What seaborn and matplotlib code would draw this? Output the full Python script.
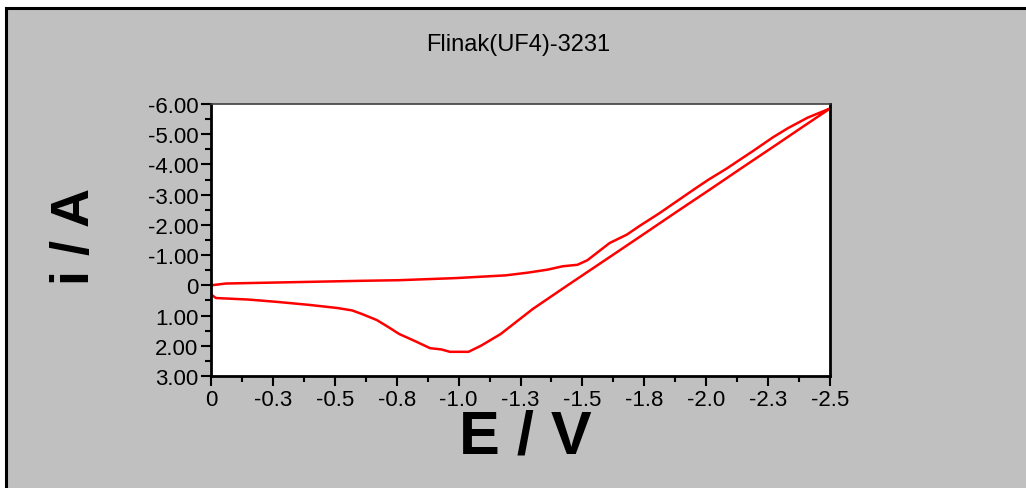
import matplotlib
matplotlib.use("Agg")
import matplotlib.pyplot as plt
from matplotlib import font_manager
from matplotlib.patches import Rectangle
from matplotlib.ticker import FixedLocator, MultipleLocator
import seaborn as sns
import pandas as pd

# forward scan (0 -> -2.5 V)
fwd_e = [0.0, -0.02, -0.15, -0.27, -0.40, -0.51, -0.57, -0.61, -0.67, -0.72,
         -0.76, -0.82, -0.885, -0.93, -0.965, -1.04, -1.09, -1.17, -1.30,
         -1.44, -1.52, -1.62, -1.745, -1.88, -2.015, -2.15, -2.29, -2.38,
         -2.46, -2.50]
fwd_i = [0.30, 0.42, 0.47, 0.55, 0.65, 0.75, 0.83, 0.95, 1.15, 1.40,
         1.61, 1.83, 2.08, 2.12, 2.20, 2.20, 2.00, 1.61, 0.78,
         0.0, -0.44, -0.99, -1.68, -2.43, -3.17, -3.92, -4.69, -5.19,
         -5.63, -5.85]
# reverse scan (-2.5 -> 0 V)
rev_e = [-2.50, -2.41, -2.33, -2.27, -2.19, -2.08, -2.01, -1.95, -1.81,
         -1.73, -1.68, -1.61, -1.52, -1.48, -1.42, -1.36, -1.28, -1.19,
         -0.99, -0.76, -0.61, -0.06, 0.0]
rev_i = [-5.85, -5.55, -5.20, -4.90, -4.45, -3.85, -3.50, -3.17, -2.38,
         -1.96, -1.68, -1.40, -0.83, -0.68, -0.63, -0.52, -0.42, -0.33,
         -0.24, -0.17, -0.15, -0.06, 0.0]

x_ticks = [0, -0.25, -0.5, -0.75, -1.0, -1.25, -1.5, -1.75, -2.0, -2.25, -2.5]
x_labels = ['0', '-0.3', '-0.5', '-0.8', '-1.0', '-1.3', '-1.5', '-1.8', '-2.0', '-2.3', '-2.5']
y_ticks = [-6, -5, -4, -3, -2, -1, 0, 1, 2, 3]
y_labels = ['-6.00', '-5.00', '-4.00', '-3.00', '-2.00', '-1.00', '0', '1.00', '2.00', '3.00']

title = 'Flinak(UF4)-3231'


def pick_font(names):
    available = {f.name for f in font_manager.fontManager.ttflist}
    for n in names:
        if n in available:
            return n
    return 'DejaVu Sans'


sns.set_style("white")
narrow = pick_font(['Liberation Sans Narrow', 'Liberation Sans', 'Arial'])
plt.rcParams['font.family'] = [narrow, 'DejaVu Sans']

df = pd.DataFrame({
    'E': fwd_e + rev_e,
    'i': fwd_i + rev_i,
})

fig = plt.figure(figsize=(10.26, 4.89), dpi=100, facecolor='white')
# grey panel with the black frame on top / left
fig.patches.append(Rectangle((6 / 1026, -0.1), 2, 1 - 8.5 / 489 + 0.1,
                             transform=fig.transFigure, facecolor='#c0c0c0',
                             edgecolor='black', linewidth=2.2, zorder=-5))

ax = fig.add_axes([211 / 1026, 1 - 377 / 489, 619 / 1026, 272 / 489])
ax.set_zorder(2)
ax.set_facecolor('white')
sns.lineplot(data=df, x='E', y='i', sort=False, estimator=None,
             color='#ff0000', linewidth=1.8, ax=ax)

ax.set_xlim(0, -2.5)
ax.set_ylim(3, -6)
ax.xaxis.set_major_locator(FixedLocator(x_ticks))
ax.set_xticklabels(x_labels)
ax.xaxis.set_minor_locator(MultipleLocator(0.125))
ax.yaxis.set_major_locator(FixedLocator(y_ticks))
ax.set_yticklabels(y_labels)
ax.yaxis.set_minor_locator(MultipleLocator(0.5))

ax.tick_params(which='major', direction='out', length=7, width=1.5,
               colors='black', labelsize=16, pad=2,
               bottom=True, left=True, top=False, right=False)
ax.tick_params(which='minor', direction='out', length=4, width=1.5,
               colors='black', bottom=True, left=True, top=False, right=False)

for side in ['left', 'bottom', 'right']:
    ax.spines[side].set_color('black')
    ax.spines[side].set_linewidth(2)
ax.spines['top'].set_color('#404040')
ax.spines['top'].set_linewidth(1.2)

ax.set_xlabel('')
ax.set_ylabel('')
fig.text(525 / 1026, 1 - 438 / 489, 'E / V', ha='center', va='center',
         fontsize=44, fontweight='bold', color='black', zorder=5)
fig.text(75 / 1026, 1 - 236 / 489, 'i / A', ha='center', va='center',
         rotation=90, fontsize=39, fontweight='bold', color='black')
fig.text(518 / 1026, 1 - 45 / 489, title, ha='center', va='center',
         fontsize=17, color='black')

fig.savefig('out.png', dpi=100, facecolor=fig.get_facecolor())
